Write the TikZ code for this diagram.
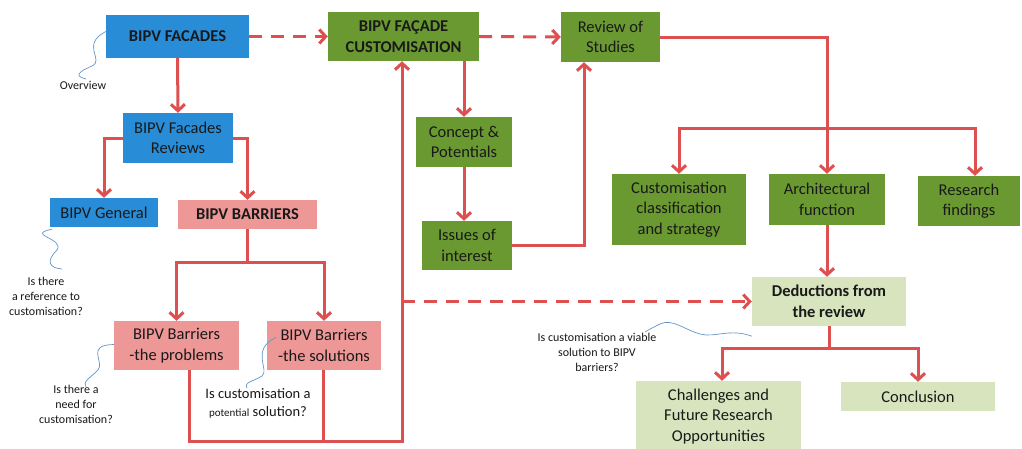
\documentclass[tikz,border=0pt]{standalone}
\usepackage{fontspec}
\setmainfont{Carlito}
\usetikzlibrary{arrows.meta}
\definecolor{bluebox}{RGB}{41,140,214}
\definecolor{greenbox}{RGB}{106,153,49}
\definecolor{pinkbox}{RGB}{238,151,151}
\definecolor{lightgreen}{RGB}{215,228,189}
\definecolor{redline}{RGB}{222,80,80}
\definecolor{squig}{RGB}{100,150,200}
\definecolor{txt}{RGB}{25,25,25}
\begin{document}
\begin{tikzpicture}[x=1pt,y=-1pt,
  box/.style={draw=none, align=center, inner sep=0pt, text=txt,
    font=\fontsize{16.5}{20.5}\selectfont},
  bbox/.style={box, font=\fontsize{16.5}{20.5}\selectfont\bfseries},
  bl/.style={fill=bluebox},
  gr/.style={fill=greenbox},
  pk/.style={fill=pinkbox},
  lg/.style={fill=lightgreen},
  wire/.style={draw=redline, line width=3pt},
  arr/.style={wire, -{Straight Barb[length=6.5pt,width=14pt,line width=3pt]}},
  darr/.style={arr, dash pattern=on 13pt off 9pt},
  note/.style={align=center, text=txt, font=\fontsize{12}{15}\selectfont},
  sq/.style={draw=squig, line width=0.7pt}
]
\clip (0,0) rectangle (1022,448);
\useasboundingbox (0,0) rectangle (1022,448);
\fill[white] (0,0) rectangle (1022,448);

% boxes
\node[bbox,bl,minimum width=143,minimum height=43] (fac) at (177.5,36.5) {BIPV FACADES};
\node[bbox,gr,minimum width=151,minimum height=49] (cust) at (403.5,36.5) {BIPV FAÇADE\\CUSTOMISATION};
\node[box,gr,minimum width=99,minimum height=50] (rev) at (610.5,37) {Review of\\Studies};
\node[box,bl,minimum width=110,minimum height=50] (frev) at (178,138) {BIPV Facades\\Reviews};
\node[box,bl,minimum width=108,minimum height=29] (gen) at (104,212.5) {BIPV General};
\node[bbox,pk,minimum width=139,minimum height=29] (bar) at (247.5,214.5) {BIPV BARRIERS};
\node[box,pk,minimum width=125,minimum height=49] (prob) at (176.5,345.5) {BIPV Barriers\\-the problems};
\node[box,pk,minimum width=114,minimum height=49] (sol) at (324,345.5) {BIPV Barriers\\-the solutions};
\node[box,gr,minimum width=96,minimum height=50] (conc) at (464,142) {Concept \&\\Potentials};
\node[box,gr,minimum width=90,minimum height=49] (iss) at (467,245.5) {Issues of\\interest};
\node[box,gr,minimum width=134,minimum height=71] (cls) at (679,209.5) {Customisation\\classification\\and strategy};
\node[box,gr,minimum width=116,minimum height=51] (arch) at (827,199.5) {Architectural\\function};
\node[box,gr,minimum width=102,minimum height=50] (res) at (969,201) {Research\\findings};
\node[bbox,lg,minimum width=154,minimum height=49] (ded) at (829,301.5) {Deductions from\\the review};
\node[box,lg,minimum width=165,minimum height=71] (chal) at (718.5,416.5) {Challenges and\\Future Research\\Opportunities};
\node[box,lg,minimum width=154,minimum height=29] (concl) at (918,396.5) {Conclusion};

% notes
\node[note] (n1) at (83,85) {Overview};
\node[note] (n2) at (46,296) {Is there\\a reference to\\customisation?};
\node[note] (n3) at (76,404) {Is there a\\need for\\customisation?};
\node[note, font=\fontsize{14.5}{18}\selectfont] (n4) at (258,403) {Is customisation a\\{\fontsize{11}{12}\selectfont potential} solution?};
\node[note] (n5) at (597,352) {Is customisation a viable\\solution to BIPV\\barriers?};

% squiggles
\draw[sq] ([yshift=5]fac.west) .. controls (80,45) and (105,60) .. (92,66) .. controls (78,72) and (74,76) .. (86,79);
\draw[sq] ([xshift=2,yshift=-2]gen.south west) .. controls (25,235) and (65,238) .. (57,250) .. controls (45,262) and (50,268) .. (62,269);
\draw[sq] ([yshift=1]prob.west) .. controls (85,345) and (105,362) .. (98,370) .. controls (90,378) and (82,382) .. (86,387);
\draw[sq] ([xshift=9,yshift=8]sol.west) .. controls (250,350) and (270,370) .. (262,376) .. controls (252,382) and (244,382) .. (247,388);
\draw[sq] ([yshift=-10]ded.south west) .. controls (730,328) and (715,338) .. (700,334) .. controls (685,330) and (672,318) .. (660,324) .. controls (652,328) and (648,330) .. (645,332);

% connectors
\draw[darr] (fac.east) -- (cust.west);
\draw[darr] (cust.east) -- (rev.west);
\draw[arr] (fac.south) -- (frev.north);
\draw[arr] (frev.west) -| (gen.north);
\draw[arr] (frev.east) -| (bar.north);
\coordinate (bj) at (247.5,262);
\draw[wire] (bar.south) -- (bj);
\draw[arr] (bj) -| (prob.north);
\draw[arr] (bj) -| (sol.north);
\coordinate (bot) at (402,441);
\draw[arr] ([xshift=12.5]prob.south) |- (bot) -- ([xshift=-1.5]cust.south);
\draw[wire] ([xshift=-1]sol.south) -- ([xshift=-1]sol.south|-bot);
\coordinate (dj) at (402,301.5);
\draw[darr] (dj) -- (ded.west);
\draw[arr] (cust.south-|conc.north) -- (conc.north);
\draw[arr] (conc.south) -- (conc.south|-iss.north);
\draw[arr] (iss.east) -| ([xshift=-26.5]rev.south);
\draw[arr] (rev.east) -| (arch.north);
\coordinate (sj) at (827,128);
\draw[arr] (sj) -| (cls.north);
\draw[arr] (sj) -| ([xshift=6]res.north);
\draw[arr] (arch.south) -- (arch.south|-ded.north);
\coordinate (dj2) at (829,348);
\draw[wire] (ded.south) -- (dj2);
\draw[arr] (dj2) -| ([xshift=3.5]chal.north);
\draw[arr] (dj2) -| (concl.north);
\end{tikzpicture}
\end{document}
